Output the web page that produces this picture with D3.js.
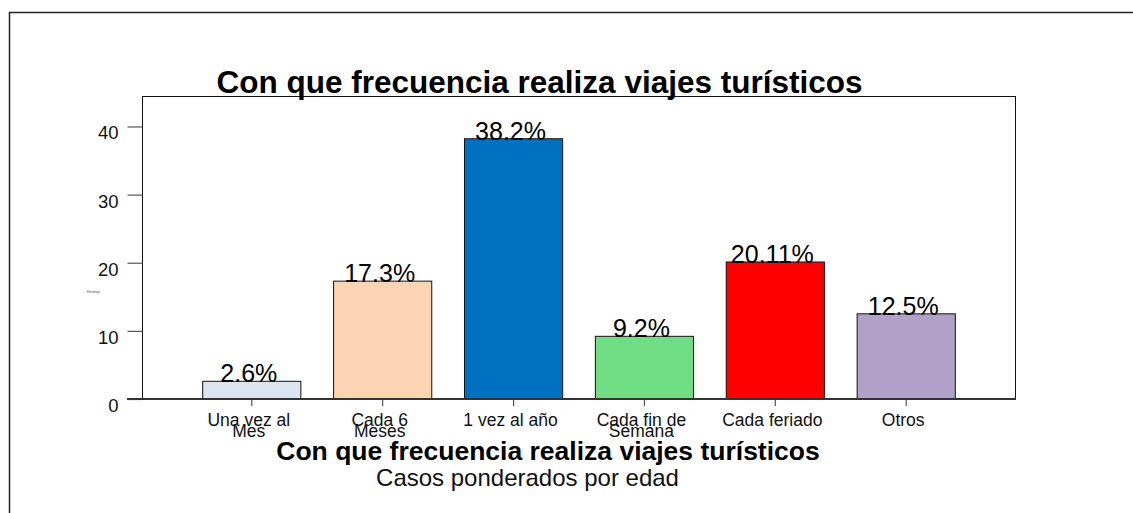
<!DOCTYPE html>
<html>
<head>
<meta charset="utf-8">
<script src="https://cdn.jsdelivr.net/npm/d3@7"></script>
<style>
  body { margin: 0; background: #fff; }
  svg { display: block; font-family: "Liberation Sans", Arial, sans-serif; }
</style>
</head>
<body>
<div id="chart"></div>
<script>
const categories = [["Una vez al", "Mes"], ["Cada 6", "Meses"], ["1 vez al año"], ["Cada fin de", "Semana"], ["Cada feriado"], ["Otros"]];
const values = [2.6, 17.3, 38.2, 9.2, 20.11, 12.5];
const valueLabels = ["2.6%", "17.3%", "38.2%", "9.2%", "20.11%", "12.5%"];
const barColors = ["#dbe5f1", "#fbd4b4", "#0070c0", "#70dc84", "#ff0000", "#b1a0c7"];
const yTicks = [0, 10, 20, 30, 40];
const titleText = "Con que frecuencia realiza viajes turísticos";
const subtitleText = "Casos ponderados por edad";
const yTitle = "Porcentaje";

const width = 1133, height = 513;
const plotLeft = 142.5, plotRight = 1015.5, plotTop = 96.5, plotBottom = 399;

const svg = d3.select("#chart").append("svg")
  .attr("width", width)
  .attr("height", height);

// outer frame (runs off the right and bottom edge)
svg.append("rect")
  .attr("x", 9.5).attr("y", 12.5)
  .attr("width", 1200).attr("height", 600)
  .attr("fill", "none")
  .attr("stroke", "#222")
  .attr("stroke-width", 1.5);

const keys = categories.map((d, i) => i);
const x = d3.scaleBand()
  .domain(keys)
  .range([plotLeft, plotRight])
  .paddingInner(0.25)
  .paddingOuter(0.46);

const y = d3.scaleLinear()
  .domain([0, 44.4])
  .range([plotBottom, plotTop]);

// plot box
svg.append("rect")
  .attr("x", plotLeft).attr("y", plotTop)
  .attr("width", plotRight - plotLeft).attr("height", plotBottom - plotTop)
  .attr("fill", "none")
  .attr("stroke", "#111")
  .attr("stroke-width", 1);

// y axis
const yAxis = svg.append("g")
  .attr("transform", "translate(" + plotLeft + ",0)")
  .call(d3.axisLeft(y).tickValues(yTicks).tickSize(15).tickPadding(9));
yAxis.select(".domain").remove();
yAxis.selectAll(".tick line").attr("stroke", "#555").attr("stroke-width", 1.2);
yAxis.selectAll(".tick text")
  .attr("fill", "#111")
  .attr("dy", "12.5px")
  .style("font-size", "18.5px")
  .style("font-family", "'Liberation Sans', Arial, sans-serif");

svg.append("text")
  .attr("x", 93.5).attr("y", 293)
  .attr("text-anchor", "middle")
  .style("font-size", "2.7px")
  .attr("fill", "#333")
  .text(yTitle);

// bars
svg.selectAll(".bar")
  .data(values)
  .enter()
  .append("rect")
  .attr("class", "bar")
  .attr("x", (d, i) => x(i))
  .attr("y", d => y(d))
  .attr("width", x.bandwidth())
  .attr("height", d => plotBottom - y(d))
  .attr("fill", (d, i) => barColors[i])
  .attr("stroke", "#111")
  .attr("stroke-width", 1);

// value labels
svg.selectAll(".vlabel")
  .data(values)
  .enter()
  .append("text")
  .attr("class", "vlabel")
  .attr("x", (d, i) => x(i) + x.bandwidth() / 2 - 3)
  .attr("y", d => y(d) + 1)
  .attr("text-anchor", "middle")
  .style("font-size", "25px")
  .attr("fill", "#000")
  .text((d, i) => valueLabels[i]);

// x axis
const xAxis = svg.append("g")
  .attr("transform", "translate(0," + plotBottom + ")")
  .call(d3.axisBottom(x).tickSize(7).tickFormat(""));
xAxis.select(".domain").remove();
xAxis.selectAll(".tick line").attr("stroke", "#555").attr("stroke-width", 1.2);

svg.append("line")
  .attr("x1", 127).attr("x2", plotRight + 0.5)
  .attr("y1", plotBottom).attr("y2", plotBottom)
  .attr("stroke", "#333")
  .attr("stroke-width", 2);

const xl = svg.selectAll(".xlabel")
  .data(categories)
  .enter()
  .append("text")
  .attr("class", "xlabel")
  .attr("text-anchor", "middle")
  .style("font-size", "17.5px")
  .attr("fill", "#111");
xl.selectAll("tspan")
  .data((d, i) => d.map(t => ({ t: t, i: i })))
  .enter()
  .append("tspan")
  .attr("x", d => x(d.i) + x.bandwidth() / 2 - 3)
  .attr("y", (d, j) => 425.5 + j * 11.7)
  .text(d => d.t);

// titles
svg.append("text")
  .attr("x", 539.5).attr("y", 92.5)
  .attr("text-anchor", "middle")
  .style("font-size", "31.5px")
  .style("font-weight", "bold")
  .text(titleText);

svg.append("text")
  .attr("x", 548).attr("y", 459.5)
  .attr("text-anchor", "middle")
  .style("font-size", "26.5px")
  .style("font-weight", "bold")
  .text(titleText);

svg.append("text")
  .attr("x", 527.5).attr("y", 486)
  .attr("text-anchor", "middle")
  .style("font-size", "24px")
  .attr("fill", "#111")
  .text(subtitleText);
</script>
</body>
</html>
